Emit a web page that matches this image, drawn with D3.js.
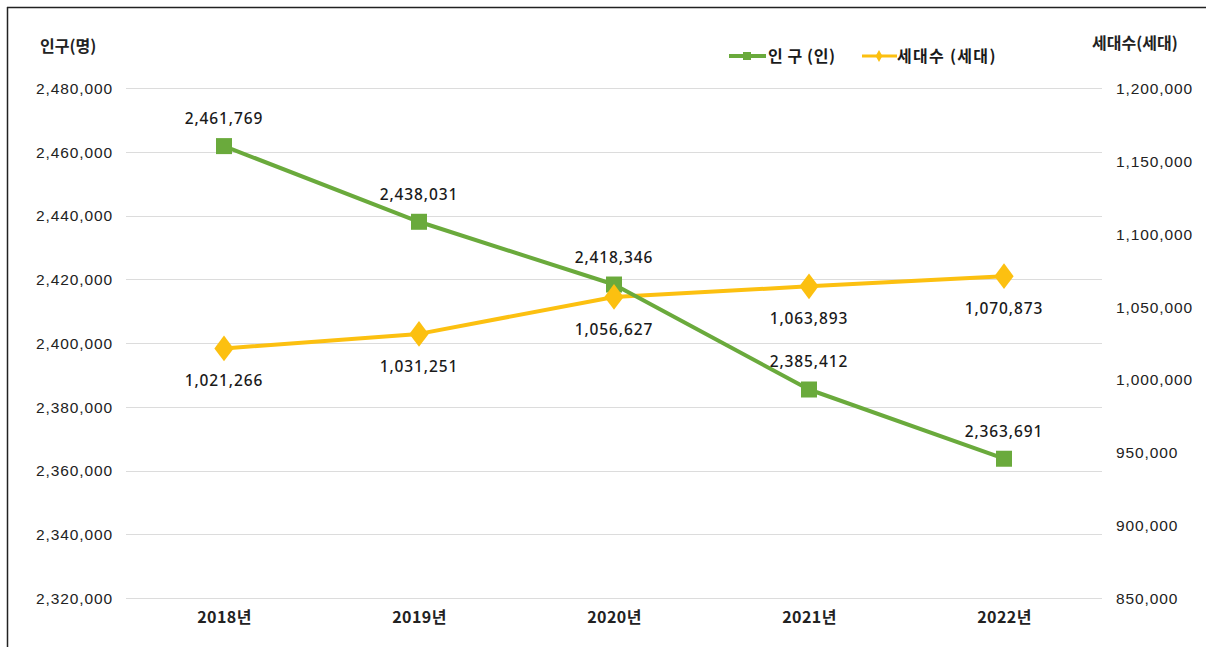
<!DOCTYPE html>
<html>
<head>
<meta charset="utf-8">
<script src="https://cdn.jsdelivr.net/npm/d3@7"></script>
<style>
  body { margin: 0; background: #fff; }
  svg { font-family: "Noto Sans", "Noto Sans CJK KR", sans-serif; }
  .kr { font-family: "Noto Sans CJK KR", sans-serif; }
</style>
</head>
<body>
<script>
// data
var years = ["2018년", "2019년", "2020년", "2021년", "2022년"];
var population = [2461769, 2438031, 2418346, 2385412, 2363691];
var households = [1021266, 1031251, 1056627, 1063893, 1070873];
var leftTicks = [2320000, 2340000, 2360000, 2380000, 2400000, 2420000, 2440000, 2460000, 2480000];
var rightTicks = [850000, 900000, 950000, 1000000, 1050000, 1100000, 1150000, 1200000];

var W = 1206, H = 647;
var green = "#6aaa3c", yellow = "#fcc010";

var svg = d3.select('body').append('svg')
    .attr('width', W)
    .attr('height', H);

// frame (top + left edge only)
svg.append('line').attr('x1', 7).attr('x2', W).attr('y1', 7.5).attr('y2', 7.5)
    .attr('stroke', '#222').attr('stroke-width', 1.5);
svg.append('line').attr('x1', 7.5).attr('x2', 7.5).attr('y1', 7).attr('y2', H)
    .attr('stroke', '#222').attr('stroke-width', 1.5);

var x = d3.scalePoint().domain(years).range([224, 1004]);
var yL = d3.scaleLinear().domain([2320000, 2480000]).range([598, 88]);
var yR = d3.scaleLinear().domain([850000, 1200000]).range([598, 88]);
var fmt = d3.format(",");

// gridlines
svg.append('g').selectAll('line').data(leftTicks).enter().append('line')
    .attr('x1', 126).attr('x2', 1102)
    .attr('y1', function(d){ return Math.round(yL(d)) + 0.5; })
    .attr('y2', function(d){ return Math.round(yL(d)) + 0.5; })
    .attr('stroke', '#dcdcdc').attr('stroke-width', 1.2);

// left axis
var axL = svg.append('g').attr('transform', 'translate(113,0)')
    .call(d3.axisLeft(yL).tickValues(leftTicks).tickFormat(fmt).tickSize(0).tickPadding(0));
axL.select('.domain').remove();
axL.selectAll('text').attr('font-size', 15.5).attr('letter-spacing', '0.9px')
    .attr('font-weight', 500).attr('fill', '#222').attr('dy', '0.35em');

// right axis
var axR = svg.append('g').attr('transform', 'translate(1116,0)')
    .call(d3.axisRight(yR).tickValues(rightTicks).tickFormat(fmt).tickSize(0).tickPadding(0));
axR.select('.domain').remove();
axR.selectAll('text').attr('font-size', 15.5).attr('letter-spacing', '0.9px')
    .attr('font-weight', 500).attr('fill', '#222').attr('dy', '0.35em');

// x axis
var axX = svg.append('g').attr('transform', 'translate(0,612)')
    .call(d3.axisBottom(x).tickSize(0).tickPadding(0));
axX.select('.domain').remove();
axX.selectAll('text').attr('class', 'kr').attr('font-size', 16).attr('letter-spacing', '0.4px')
    .attr('fill', '#222').attr('font-weight', 700);

// axis titles
svg.append('text').attr('class', 'kr').attr('x', 40).attr('y', 52).text('인구(명)')
    .attr('font-size', 16).attr('font-weight', 700).attr('fill', '#222');
svg.append('text').attr('class', 'kr').attr('x', 1092).attr('y', 49).text('세대수(세대)')
    .attr('font-size', 16).attr('font-weight', 700).attr('fill', '#222');

// lines
var popLine = d3.line().x(function(d, i){ return x(years[i]); }).y(function(d){ return yL(d); });
var hhLine = d3.line().x(function(d, i){ return x(years[i]); }).y(function(d){ return yR(d); });

svg.append('path').datum(households).attr('d', hhLine)
    .attr('fill', 'none').attr('stroke', yellow).attr('stroke-width', 4).attr('stroke-linejoin', 'round');
svg.append('path').datum(population).attr('d', popLine)
    .attr('fill', 'none').attr('stroke', green).attr('stroke-width', 4).attr('stroke-linejoin', 'round');

// markers
svg.append('g').selectAll('rect').data(population).enter().append('rect')
    .attr('x', function(d, i){ return x(years[i]) - 8; })
    .attr('y', function(d){ return yL(d) - 8; })
    .attr('width', 16).attr('height', 16)
    .attr('fill', green);

var diamond = d3.symbol().type(d3.symbolDiamond).size(190);
svg.append('g').selectAll('path').data(households).enter().append('path')
    .attr('d', diamond)
    .attr('transform', function(d, i){ return 'translate(' + x(years[i]) + ',' + yR(d) + ') scale(1.3,1)'; })
    .attr('fill', yellow);

// data labels
svg.append('g').selectAll('text').data(population).enter().append('text')
    .attr('x', function(d, i){ return x(years[i]); })
    .attr('y', function(d){ return yL(d) - 22; })
    .attr('text-anchor', 'middle')
    .attr('font-size', 15.5).attr('letter-spacing', '0.9px').attr('font-weight', 500).attr('fill', '#1a1a1a')
    .text(function(d){ return fmt(d); });

svg.append('g').selectAll('text').data(households).enter().append('text')
    .attr('x', function(d, i){ return x(years[i]); })
    .attr('y', function(d){ return yR(d) + 38; })
    .attr('text-anchor', 'middle')
    .attr('font-size', 15.5).attr('letter-spacing', '0.9px').attr('font-weight', 500).attr('fill', '#1a1a1a')
    .text(function(d){ return fmt(d); });

// legend
var lg = svg.append('g');
lg.append('line').attr('x1', 729).attr('x2', 766).attr('y1', 56).attr('y2', 56)
    .attr('stroke', green).attr('stroke-width', 4);
lg.append('rect').attr('x', 743).attr('y', 52).attr('width', 8).attr('height', 8).attr('fill', green);
lg.append('text').attr('class', 'kr').attr('x', 768).attr('y', 62).text('인 구 (인)')
    .attr('font-size', 16).attr('font-weight', 700).attr('letter-spacing', '0.6px').attr('fill', '#1a1a1a');

lg.append('line').attr('x1', 862).attr('x2', 897).attr('y1', 56).attr('y2', 56)
    .attr('stroke', yellow).attr('stroke-width', 3);
lg.append('path').attr('d', d3.symbol().type(d3.symbolDiamond).size(40))
    .attr('transform', 'translate(879,56)').attr('fill', yellow);
lg.append('text').attr('class', 'kr').attr('x', 897).attr('y', 62).text('세대수 (세대)')
    .attr('font-size', 16).attr('font-weight', 700).attr('letter-spacing', '1.3px').attr('fill', '#1a1a1a');
</script>
</body>
</html>
